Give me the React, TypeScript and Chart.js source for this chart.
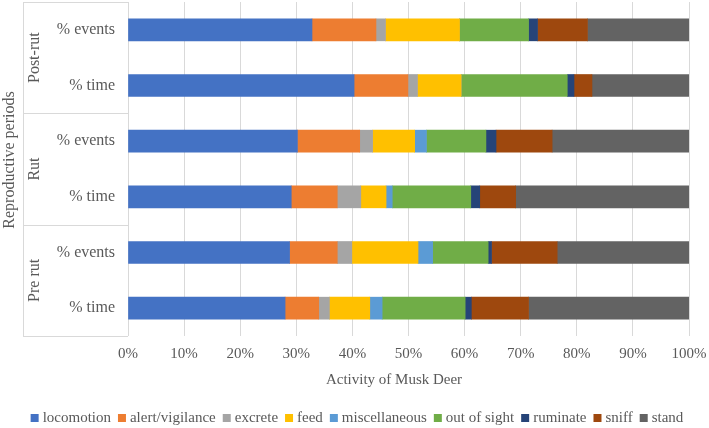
import React, { useEffect, useRef } from 'react';
import { Chart, registerables } from 'chart.js';

Chart.register(...registerables);

// Rows from top to bottom: each reproductive period has a "% events" and a "% time" bar
const periods = ['Post-rut', 'Rut', 'Pre rut'];
const rowLabels = ['% events', '% time', '% events', '% time', '% events', '% time'];
const xTicks = [0, 10, 20, 30, 40, 50, 60, 70, 80, 90, 100];

const activities = [
  'locomotion',
  'alert/vigilance',
  'excrete',
  'feed',
  'miscellaneous',
  'out of sight',
  'ruminate',
  'sniff',
  'stand',
];
const colors = ['#4472C4', '#ED7D31', '#A5A5A5', '#FFC000', '#5B9BD5', '#70AD47', '#264478', '#9E480E', '#636363'];

// Share (%) of each activity per row
const locomotion = [32.8, 40.3, 30.2, 29.1, 28.8, 28.0];
const alertVigilance = [11.4, 9.6, 11.1, 8.2, 8.5, 6.0];
const excrete = [1.7, 1.7, 2.3, 4.2, 2.6, 1.9];
const feed = [13.2, 7.8, 7.5, 4.5, 11.8, 7.2];
const miscellaneous = [0, 0, 2.1, 1.1, 2.6, 2.2];
const outOfSight = [12.3, 18.9, 10.6, 14.0, 9.9, 14.8];
const ruminate = [1.6, 1.2, 1.8, 1.6, 0.6, 1.1];
const sniff = [8.9, 3.2, 10.0, 6.4, 11.7, 10.2];
const stand = [18.1, 17.3, 24.4, 30.9, 23.5, 28.6];

const series = [locomotion, alertVigilance, excrete, feed, miscellaneous, outOfSight, ruminate, sniff, stand];

const FONT = '"Liberation Serif", "Times New Roman", serif';
const TEXT = '#595959';
const LINE = '#D9D9D9';

// Draws the period groups, the y axis title, the x axis title and the legend
const decorations = {
  id: 'decorations',
  afterDraw(chart: any) {
    const { ctx, chartArea, scales } = chart;
    const y = scales.y;
    const top = chartArea.top;
    const bottom = chartArea.bottom;
    const left = chartArea.left;
    const boxLeft = 23;

    ctx.save();
    ctx.strokeStyle = LINE;
    ctx.lineWidth = 1;

    const bounds: number[] = [top];
    for (let g = 1; g < periods.length; g++) {
      const a = y.getPixelForValue(g * 2 - 1);
      const b = y.getPixelForValue(g * 2);
      bounds.push((a + b) / 2);
    }
    bounds.push(bottom);

    ctx.beginPath();
    ctx.moveTo(boxLeft + 0.5, top);
    ctx.lineTo(boxLeft + 0.5, bottom);
    bounds.forEach((b) => {
      const yy = Math.round(b) + 0.5;
      ctx.moveTo(boxLeft, yy);
      ctx.lineTo(left, yy);
    });
    ctx.stroke();

    ctx.fillStyle = TEXT;
    ctx.textAlign = 'center';
    ctx.textBaseline = 'middle';
    ctx.font = `16px ${FONT}`;
    periods.forEach((p, i) => {
      const cy = (bounds[i] + bounds[i + 1]) / 2;
      ctx.save();
      ctx.translate(35, cy);
      ctx.rotate(-Math.PI / 2);
      ctx.fillText(p, 0, 0);
      ctx.restore();
    });

    ctx.save();
    ctx.translate(10, 160);
    ctx.rotate(-Math.PI / 2);
    ctx.fillText('Reproductive periods', 0, 0);
    ctx.restore();

    ctx.font = `15px ${FONT}`;
    ctx.fillText('Activity of Musk Deer', 394, 380);

    // legend
    const box = 8;
    const gapText = 4;
    const gapItem = 7;
    const widths = activities.map((a) => ctx.measureText(a).width);
    const total = widths.reduce((s, w) => s + box + gapText + w, 0) + gapItem * (activities.length - 1);
    let x = 357 - total / 2;
    const ly = 418;
    ctx.textAlign = 'left';
    activities.forEach((a, i) => {
      ctx.fillStyle = colors[i];
      ctx.fillRect(x, ly - box / 2, box, box);
      ctx.fillStyle = TEXT;
      ctx.fillText(a, x + box + gapText, ly);
      x += box + gapText + widths[i] + gapItem;
    });
    ctx.restore();
  },
};

export default function App() {
  const ref = useRef<HTMLCanvasElement | null>(null);

  useEffect(() => {
    if (!ref.current) return;
    const chart = new Chart(ref.current, {
      type: 'bar',
      data: {
        labels: rowLabels,
        datasets: activities.map((a, i) => ({
          label: a,
          data: series[i],
          backgroundColor: colors[i],
          borderWidth: 0,
          barThickness: 22,
        })),
      },
      options: {
        indexAxis: 'y',
        responsive: false,
        animation: false,
        devicePixelRatio: 1,
        layout: { padding: { top: 2, right: 20, left: 0, bottom: 0 } },
        plugins: {
          legend: { display: false },
          tooltip: { enabled: false },
        },
        scales: {
          x: {
            stacked: true,
            min: 0,
            max: 100,
            afterBuildTicks: (scale: any) => {
              scale.ticks = xTicks.map((v) => ({ value: v }));
            },
            afterFit: (scale: any) => {
              scale.height = 92;
              scale.paddingLeft = 0;
              scale.paddingRight = 0;
              scale.paddingTop = 0;
              scale.paddingBottom = 0;
            },
            grid: { color: LINE, lineWidth: 1, drawTicks: false },
            border: { display: false },
            ticks: {
              padding: 9,
              color: TEXT,
              font: { family: FONT, size: 15 },
              callback: (v: any) => `${v}%`,
            },
          },
          y: {
            stacked: true,
            afterFit: (scale: any) => {
              scale.width = 128;
              scale.paddingLeft = 0;
              scale.paddingRight = 0;
              scale.paddingTop = 0;
              scale.paddingBottom = 0;
            },
            grid: { display: false, drawTicks: false },
            border: { display: false },
            ticks: {
              padding: 13,
              color: TEXT,
              font: { family: FONT, size: 16 },
            },
          },
        },
      },
      plugins: [decorations],
    });
    return () => chart.destroy();
  }, []);

  return (
    <div style={{ position: 'fixed', left: 0, top: 0, width: 709, height: 428, background: '#fff' }}>
      <canvas ref={ref} width={709} height={428} />
    </div>
  );
}
